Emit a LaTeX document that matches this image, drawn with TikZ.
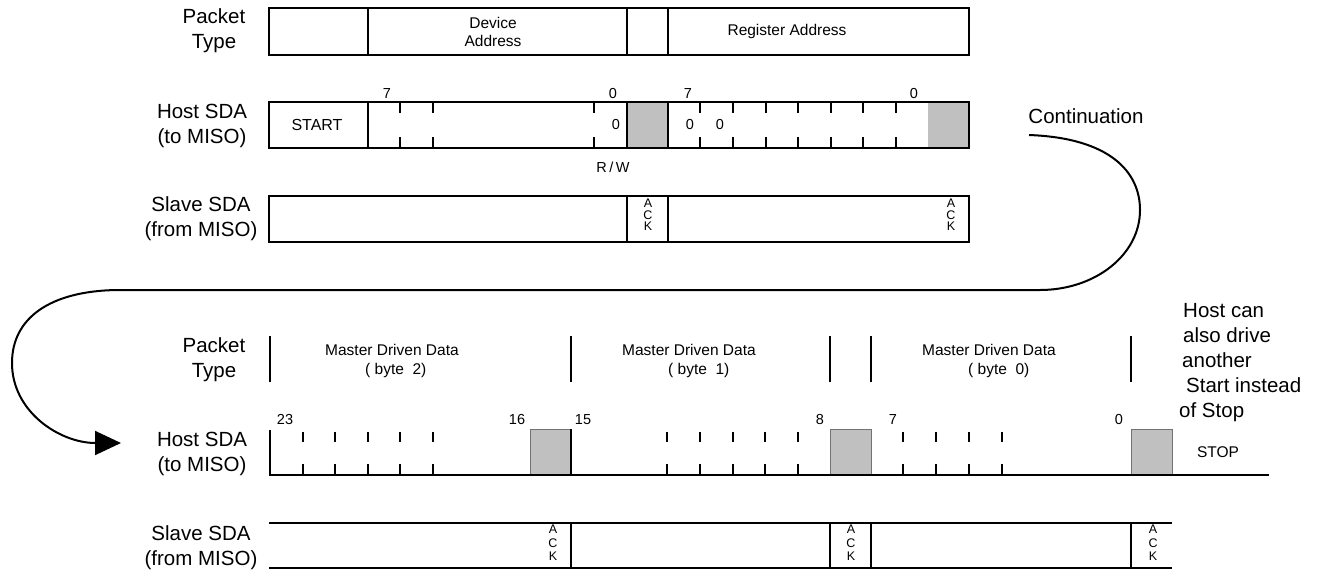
\documentclass[tikz,border=0pt]{standalone}
\usepackage{fontspec}
\setmainfont{Liberation Sans}
\usetikzlibrary{arrows.meta}
\definecolor{boxgray}{RGB}{192,192,192}
\begin{document}
\begin{tikzpicture}[x=1pt,y=-1pt,
  ln/.style={line width=1.1pt},
  big/.style={font=\fontsize{20.5}{25}\selectfont, align=center, inner sep=0},
  bigl/.style={font=\fontsize{20.5}{25}\selectfont, align=left, inner sep=0},
  sml/.style={font=\fontsize{15.5}{18}\selectfont, align=center, inner sep=0},
  num/.style={font=\fontsize{14.5}{15}\selectfont, inner sep=0},
  ack/.style={font=\fontsize{12.5}{11.5}\selectfont, align=center, inner sep=0},
  ackl/.style={font=\fontsize{12.5}{13.5}\selectfont, align=center, inner sep=0},
  gbox/.style={fill=boxgray, draw=black!55, line width=0.6pt},
  cont/.style={line width=2pt},
]
\useasboundingbox (0,0) rectangle (1317,571);

% ---------- upper part ----------
\node[big] (pt1) at (214,31) {Packet\\Type};
\node[big] (hs1) at (202,126) {Host SDA\\(to MISO)};
\node[big] (ss1) at (201,219) {Slave SDA\\(from MISO)};

\fill[boxgray] (627,102) rectangle (668,148);
\fill[boxgray] (928,102) rectangle (969,148);

\draw[ln] (269,8) rectangle (969,55);
\draw[ln] (368,8) -- (368,55) (627,8) -- (627,55) (668,8) -- (668,55);

\draw[ln] (269,102) rectangle (969,148);
\draw[ln] (368,102) -- (368,148) (627,102) -- (627,148) (668,102) -- (668,148);
\foreach \x in {400,433,594,700,733,766,798,831,863,896}
  {\draw[ln] (\x,102) -- (\x,113) (\x,137) -- (\x,148);}

\draw[ln] (269,196) rectangle (969,242);
\draw[ln] (627,196) -- (627,242) (668,196) -- (668,242);

\node[sml] (dev) at (493,32) {Device\\Address};
\node[sml] (reg) at (787,31) {Register Address};
\node[font=\fontsize{16}{18}\selectfont, inner sep=0] (start) at (317,125) {START};

\node[num] (u7a) at (387,94) {7};
\node[num] (u0a) at (613,94) {0};
\node[num] (u7b) at (688,94) {7};
\node[num] (u0b) at (914,94) {0};
\node[num] (rwbit) at (616,125) {0};
\node[num] (z1) at (690,125) {0};
\node[num] (z2) at (720,125) {0};
\node[num] (rw) at (613,167) {R\,/\,W};

\node[ack] (ack1) at (648,215) {A\\C\\K};
\node[ack] (ack2) at (951,215) {A\\C\\K};

\node[big] (contlbl) at (1086,116) {Continuation};

% ---------- lower part ----------
\node[big] (pt2) at (214,360) {Packet\\Type};
\node[big] (hs2) at (202,454) {Host SDA\\(to MISO)};
\node[big] (ss2) at (201,548) {Slave SDA\\(from MISO)};

\foreach \x in {270,571,830,871,1131}
  {\draw[ln] (\x,336) -- (\x,382);}

\node[sml, anchor=west] (m2) at (325,350) {Master Driven Data};
\node[sml, anchor=west] (b2) at (365,370) {( byte~~2)};
\node[sml, anchor=west] (m1) at (622,350) {Master Driven Data};
\node[sml, anchor=west] (b1) at (668,370) {( byte~~1)};
\node[sml, anchor=west] (m0) at (922,350) {Master Driven Data};
\node[sml, anchor=west] (b0) at (968,370) {( byte~~0)};

\draw[gbox] (530,429) rectangle (571,475);
\draw[gbox] (830,429) rectangle (871,475);
\draw[gbox] (1131,429) rectangle (1172,475);
\draw[ln] (270,430) -- (270,475) -- (1269,475);
\draw[ln] (571,429) -- (571,475);
\foreach \x in {303,335,368,400,433,667,700,733,765,798,903,936,969,1002}
  {\draw[ln] (\x,432) -- (\x,442) (\x,464) -- (\x,475);}

\node[num] (l23) at (285,420) {23};
\node[num] (l16) at (517,420) {16};
\node[num] (l15) at (583,420) {15};
\node[num] (l8) at (820,420) {8};
\node[num] (l7) at (893,420) {7};
\node[num] (l0) at (1119,420) {0};
\node[font=\fontsize{15.5}{18}\selectfont, inner sep=0] (stop) at (1218,452) {STOP};

\draw[ln] (269,523) -- (1172,523) (269,568) -- (1172,568);
\foreach \x in {571,830,871,1131}
  {\draw[ln] (\x,523) -- (\x,568);}
\node[ackl] (ack3) at (553,543) {A\\C\\K};
\node[ackl] (ack4) at (851,543) {A\\C\\K};
\node[ackl] (ack5) at (1153,543) {A\\C\\K};

\node[bigl, anchor=west] (note) at (1179,363)
  {\hspace{4pt}Host can\\\hspace{4pt}also drive\\\hspace{3pt}another\\\hspace{7pt}Start instead\\of Stop};

% ---------- continuation arrow ----------
\coordinate (cA) at (1029,135);
\coordinate (cB) at (1040,290);
\coordinate (cC) at (117,290);
\coordinate (cD) at (121,443);
\draw[cont, -{Triangle[length=26pt,width=24pt]}]
  (cA) .. controls (1110,138) and (1140,172) .. (1140,210)
       .. controls (1140,255) and (1095,290) .. (cB)
  -- (cC) .. controls (50,291) and (12,318) .. (12,363)
       .. controls (12,412) and (60,443) .. (cD);
\end{tikzpicture}
\end{document}
